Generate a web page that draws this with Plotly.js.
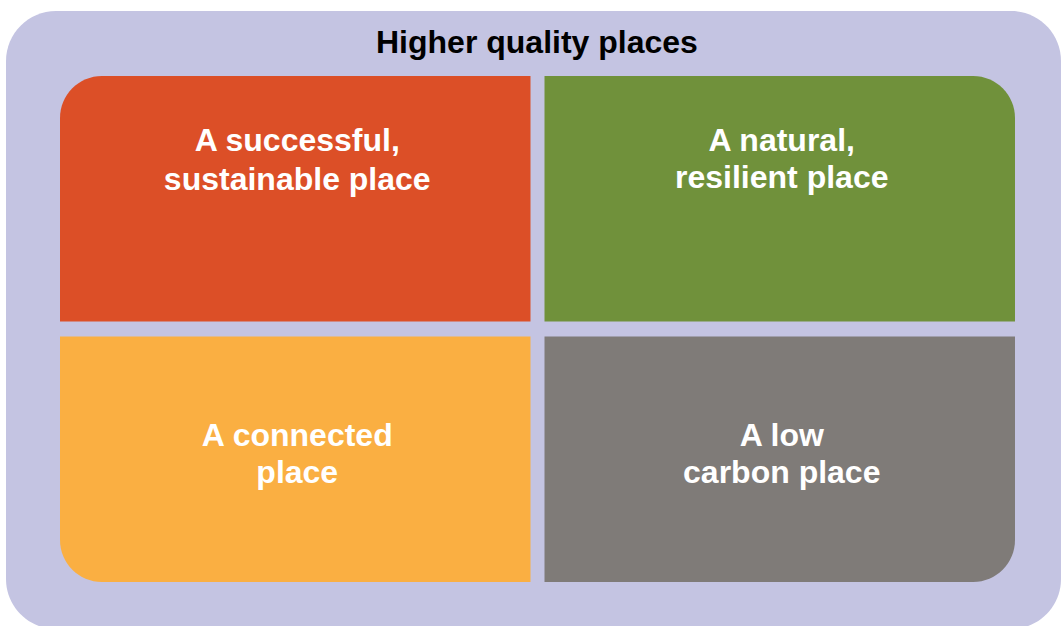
<!DOCTYPE html>
<html>
<head>
<meta charset="utf-8">
<script src="https://cdn.plot.ly/plotly-3.0.1.min.js"></script>
<style>html,body{margin:0;padding:0;background:#fff;}#chart{width:1062px;height:626px;}</style>
</head>
<body>
<div id="chart"></div>
<script>
// ---- Data ----
var chartTitle = "Higher quality places";
var quadrantLines = [
  ["A successful,", "sustainable place"],
  ["A natural,", "resilient place"],
  ["A connected", "place"],
  ["A low", "carbon place"]
];
var quadrantColors = ["#DC4F27", "#70913B", "#FAAF42", "#7F7B78"];
var quadrantRows = [0, 0, 1, 1];
var quadrantCols = [0, 1, 0, 1];
var roundedCorner = ["tl", "tr", "bl", "br"];

// ---- Layout geometry (pixel space) ----
var W = 1062, H = 626;
var outer = {x0: 6, y0: 11, x1: 1061, y1: 629, r: 50};
var colX = [[60, 530.5], [544.5, 1015]];
var rowY = [[76, 321.5], [336.5, 582]];
var cornerR = 42;
var firstLineY = [142.5, 437.5];
var lineGap = [[39, 37.5], [37.5, 37.5]];
var textDx = 2;

function roundedPath(x0, y0, x1, y1, rad) {
  var k = 0.5523;
  var tl = rad.tl || 0, tr = rad.tr || 0, br = rad.br || 0, bl = rad.bl || 0;
  var p = "M " + x0 + "," + (y0 + tl);
  if (tl) p += " C " + x0 + "," + (y0 + tl - k * tl) + " " + (x0 + tl - k * tl) + "," + y0 + " " + (x0 + tl) + "," + y0;
  p += " L " + (x1 - tr) + "," + y0;
  if (tr) p += " C " + (x1 - tr + k * tr) + "," + y0 + " " + x1 + "," + (y0 + tr - k * tr) + " " + x1 + "," + (y0 + tr);
  p += " L " + x1 + "," + (y1 - br);
  if (br) p += " C " + x1 + "," + (y1 - br + k * br) + " " + (x1 - br + k * br) + "," + y1 + " " + (x1 - br) + "," + y1;
  p += " L " + (x0 + bl) + "," + y1;
  if (bl) p += " C " + (x0 + bl - k * bl) + "," + y1 + " " + x0 + "," + (y1 - bl + k * bl) + " " + x0 + "," + (y1 - bl);
  p += " Z";
  return p;
}

var shapes = [{
  type: "path", xref: "x", yref: "y", layer: "below",
  path: roundedPath(outer.x0, outer.y0, outer.x1, outer.y1, {tl: outer.r, tr: outer.r, br: outer.r, bl: outer.r}),
  fillcolor: "#C4C4E2", line: {width: 0}
}];

var tx = [], ty = [], tt = [];
for (var i = 0; i < quadrantLines.length; i++) {
  var c = quadrantCols[i], r = quadrantRows[i];
  var rad = {}; rad[roundedCorner[i]] = cornerR;
  shapes.push({
    type: "path", xref: "x", yref: "y", layer: "below",
    path: roundedPath(colX[c][0], rowY[r][0], colX[c][1], rowY[r][1], rad),
    fillcolor: quadrantColors[i], line: {width: 0}
  });
  var cx = (colX[c][0] + colX[c][1]) / 2 + textDx;
  for (var j = 0; j < quadrantLines[i].length; j++) {
    tx.push(cx);
    ty.push(firstLineY[r] + j * lineGap[r][c]);
    tt.push(quadrantLines[i][j]);
  }
}

var fontFam = "Liberation Sans, Arial, Helvetica, sans-serif";
var data = [{
  type: "scatter", mode: "text", x: tx, y: ty, text: tt,
  textposition: "middle center", cliponaxis: false, hoverinfo: "skip",
  textfont: {family: fontFam, size: 32, color: "#FFFFFF", weight: "bold"}
}];

var layout = {
  width: W, height: H,
  margin: {l: 0, r: 0, t: 0, b: 0, pad: 0},
  paper_bgcolor: "#FFFFFF", plot_bgcolor: "rgba(0,0,0,0)",
  showlegend: false,
  xaxis: {range: [0, W], visible: false, fixedrange: true},
  yaxis: {range: [H, 0], visible: false, fixedrange: true},
  shapes: shapes,
  annotations: [{
    xref: "x", yref: "y", x: 537, y: 41.5, text: "<b>" + chartTitle + "</b>",
    showarrow: false, xanchor: "center", yanchor: "middle",
    font: {family: fontFam, size: 32, color: "#000000"}
  }]
};

Plotly.newPlot("chart", data, layout, {staticPlot: true, displayModeBar: false});
</script>
</body>
</html>
